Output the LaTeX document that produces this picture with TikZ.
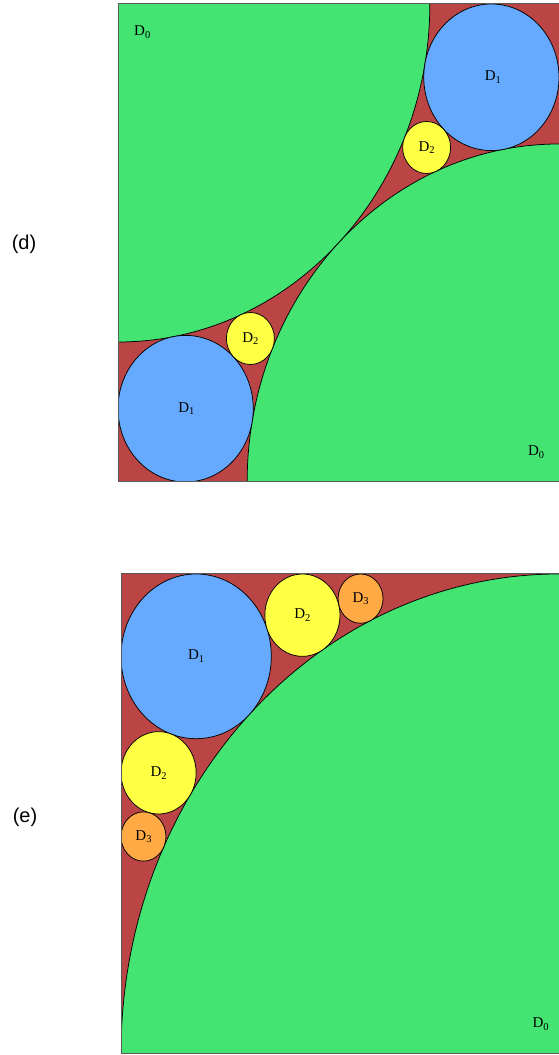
\documentclass[tikz,border=0pt]{standalone}
\usepackage{fontspec}
\setmainfont{Liberation Serif}
\newfontfamily\panelfont{Liberation Sans}
\definecolor{greenD}{RGB}{68,228,115}
\definecolor{redgap}{RGB}{187,68,68}
\definecolor{blueD}{RGB}{102,170,255}
\definecolor{yellowD}{RGB}{255,255,68}
\definecolor{orangeD}{RGB}{255,170,68}
\definecolor{boxline}{RGB}{90,90,90}
\newcommand{\Dsub}[1]{D\raisebox{-0.4ex}{\fontsize{10.5}{10.5}\selectfont #1}}
\tikzset{
  disk/.style={draw=black, line width=0.75pt},
  dlab/.style={inner sep=0pt, font=\fontsize{15}{15}\selectfont},
  panellab/.style={inner sep=0pt, font=\panelfont\fontsize{20}{20}\selectfont},
  boxedge/.style={draw=boxline, line width=1pt}
}
\begin{document}
\begin{tikzpicture}[x=1pt,y=1pt]
\useasboundingbox (0,0) rectangle (559,1055);
\fill[white] (0,0) rectangle (559,1055);
\node[panellab] (labd) at (24,811) {(d)};
\node[panellab] (labe) at (25,238) {(e)};

% ---------- panel (d) ----------
\begin{scope}[shift={(118,573)}, x=441pt, y=478pt]
  \fill[redgap] (0,0) rectangle (1,1);
  \begin{scope}
    \clip (0,0) rectangle (1,1);
    \draw[disk, fill=greenD] (0,1) circle [radius=0.707107];
    \draw[disk, fill=greenD] (1,0) circle [radius=0.707107];
    \draw[disk, fill=blueD] (0.153333,0.153333) circle [radius=0.153333];
    \draw[disk, fill=blueD] (0.846667,0.846667) circle [radius=0.153333];
    \draw[disk, fill=yellowD] (0.300198,0.300198) circle [radius=0.054366];
    \draw[disk, fill=yellowD] (0.699802,0.699802) circle [radius=0.054366];
  \end{scope}
  \draw[boxedge] (1,1) -- (0,1) -- (0,0) -- (1,0);
  \node[dlab] (d0a) at (0.055,0.941) {\Dsub{0}};
  \node[dlab] (d0b) at (0.948,0.063) {\Dsub{0}};
  \node[dlab] (d1a) at (0.155,0.153333) {\Dsub{1}};
  \node[dlab] (d1b) at (0.85,0.846667) {\Dsub{1}};
  \node[dlab] (d2a) at (0.300198,0.300198) {\Dsub{2}};
  \node[dlab] (d2b) at (0.699802,0.699802) {\Dsub{2}};
\end{scope}

% ---------- panel (e) ----------
\begin{scope}[shift={(121,1)}, x=438pt, y=480pt]
  \fill[redgap] (0,0) rectangle (1,1);
  \begin{scope}
    \clip (0,0) rectangle (1,1);
    \draw[disk, fill=greenD] (1,0) circle [radius=1];
    \draw[disk, fill=blueD] (0.171573,0.828427) circle [radius=0.171573];
    \draw[disk, fill=yellowD] (0.414214,0.914214) circle [radius=0.085786];
    \draw[disk, fill=yellowD] (0.085786,0.585786) circle [radius=0.085786];
    \draw[disk, fill=orangeD] (0.546918,0.948678) circle [radius=0.051322];
    \draw[disk, fill=orangeD] (0.051322,0.453082) circle [radius=0.051322];
  \end{scope}
  \draw[boxedge] (1,1) -- (0,1) -- (0,0) -- (1,0);
  \node[dlab] (e0) at (0.958,0.062) {\Dsub{0}};
  \node[dlab] (e1) at (0.171573,0.828427) {\Dsub{1}};
  \node[dlab] (e2a) at (0.414214,0.914214) {\Dsub{2}};
  \node[dlab] (e2b) at (0.085786,0.585786) {\Dsub{2}};
  \node[dlab] (e3a) at (0.546918,0.948678) {\Dsub{3}};
  \node[dlab] (e3b) at (0.051322,0.453082) {\Dsub{3}};
\end{scope}
\end{tikzpicture}
\end{document}
